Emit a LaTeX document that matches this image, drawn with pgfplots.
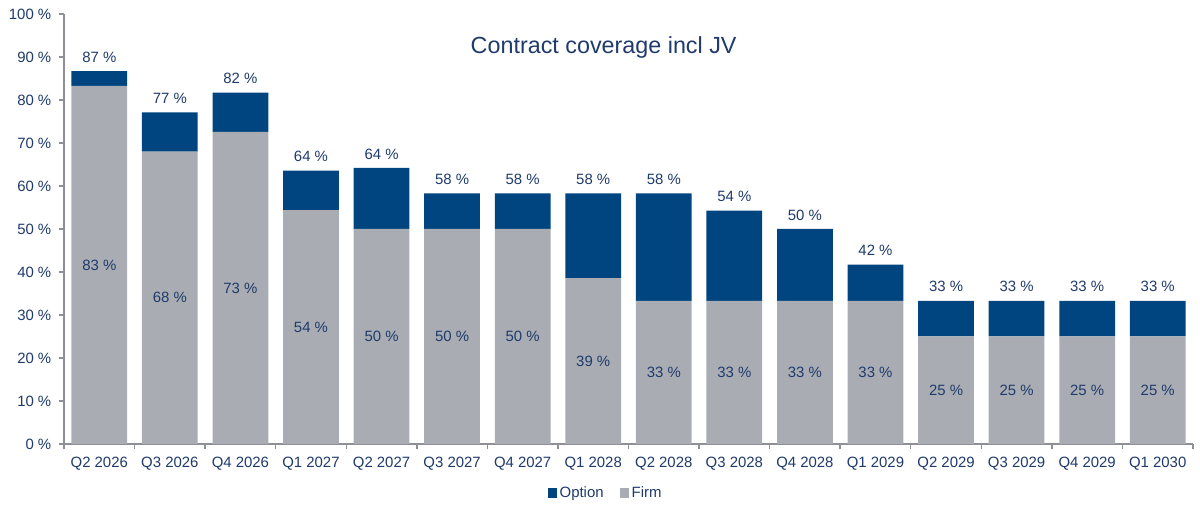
\documentclass[border=0pt]{standalone}
\usepackage{pgfplots}
\pgfplotsset{compat=1.18}
\usepackage{pgfplotstable}
\usepackage{fontspec}
\setmainfont{Liberation Sans}
\definecolor{optblue}{HTML}{004580}
\definecolor{firmgray}{HTML}{A9ADB3}
\definecolor{txt}{HTML}{1F3A6B}
\definecolor{axgray}{HTML}{8E9096}
\pgfplotstableread{
x firm option total
0 83.3 3.4 86.7
1 68.0 9.1 77.1
2 72.6 9.1 81.7
3 54.4 9.2 63.6
4 50.0 14.2 64.2
5 50.0 8.3 58.3
6 50.0 8.3 58.3
7 38.6 19.7 58.3
8 33.3 25.0 58.3
9 33.3 21.0 54.3
10 33.3 16.7 50.0
11 33.3 8.4 41.7
12 25.0 8.3 33.3
13 25.0 8.3 33.3
14 25.0 8.3 33.3
15 25.0 8.3 33.3
}\datatable
\begin{document}
\begin{tikzpicture}[font=\fontsize{11.2}{13}\selectfont, text=txt]
\begin{axis}[
  name=main,
  scale only axis,
  width=846.75pt, height=322.5pt,
  ybar stacked, bar width=0.79,
  xmin=-0.5, xmax=15.5, ymin=0, ymax=100,
  axis x line*=bottom, axis y line*=left,
  axis line style={-, axgray, line width=1.1pt},
  ytick={0,10,...,100},
  yticklabel={\pgfmathprintnumber{\tick} \%},
  /pgf/number format/assume math mode=true,
  xtick={0,...,15},
  xticklabels={Q2 2026,Q3 2026,Q4 2026,Q1 2027,Q2 2027,Q3 2027,Q4 2027,Q1 2028,Q2 2028,Q3 2028,Q4 2028,Q1 2029,Q2 2029,Q3 2029,Q4 2029,Q1 2030},
  major x tick style={draw=none},
  minor xtick={-0.5,0.5,...,15.5},
  minor x tick style={axgray, line width=1.1pt},
  minor tick length=4pt,
  y tick style={axgray, line width=1.1pt},
  major tick length=4pt,
  tick align=outside,
  tick label style={text=txt, font=\fontsize{11.2}{13}\selectfont},
  xticklabel style={yshift=-2pt},
  yticklabel style={xshift=-2pt},
  legend style={at={(0.48,-0.114)}, anchor=center, draw=none, legend columns=2,
    font=\fontsize{11.2}{13}\selectfont, text=txt,
    /tikz/every even column/.append style={column sep=10pt}},
  legend image code/.code={\fill[#1] (0pt,-3.5pt) rectangle (7pt,3.5pt);},
  clip=false,
]
\addlegendimage{fill=optblue, draw=none}
\addlegendentry{Option}
\addlegendimage{fill=firmgray, draw=none}
\addlegendentry{Firm}
\addplot[fill=firmgray, draw=none, forget plot] table[x=x, y=firm] {\datatable};
\addplot[fill=optblue, draw=none, forget plot] table[x=x, y=option] {\datatable};
\node[font=\fontsize{17.5}{20}\selectfont, text=txt] at (rel axis cs:0.478,0.923) {Contract coverage incl JV};
\end{axis}
\begin{axis}[
  scale only axis,
  width=846.75pt, height=322.5pt,
  xmin=-0.5, xmax=15.5, ymin=0, ymax=100,
  hide axis, clip=false,
  /pgf/number format/assume math mode=true,
]
\addplot[only marks, mark=none, nodes near coords={\pgfmathprintnumber[fixed, precision=0, assume math mode=true]{\pgfplotspointmeta} \%},
  point meta=explicit, nodes near coords style={anchor=south, yshift=3pt, text=txt, font=\fontsize{11.2}{13}\selectfont}]
  table[x=x, y=total, meta=total] {\datatable};
\addplot[only marks, mark=none, nodes near coords={\pgfmathprintnumber[fixed, precision=0, assume math mode=true]{\pgfplotspointmeta} \%},
  point meta=explicit, nodes near coords style={anchor=center, text=txt, font=\fontsize{11.2}{13}\selectfont}]
  table[x=x, y expr=\thisrow{firm}/2, meta=firm] {\datatable};
\end{axis}
\path (main.south west) ++(-48pt,-46.5pt) coordinate (bl);
\path (main.north east) ++(5.25pt,10.5pt) coordinate (tr);
\path (bl) rectangle (tr);
\end{tikzpicture}
\end{document}
